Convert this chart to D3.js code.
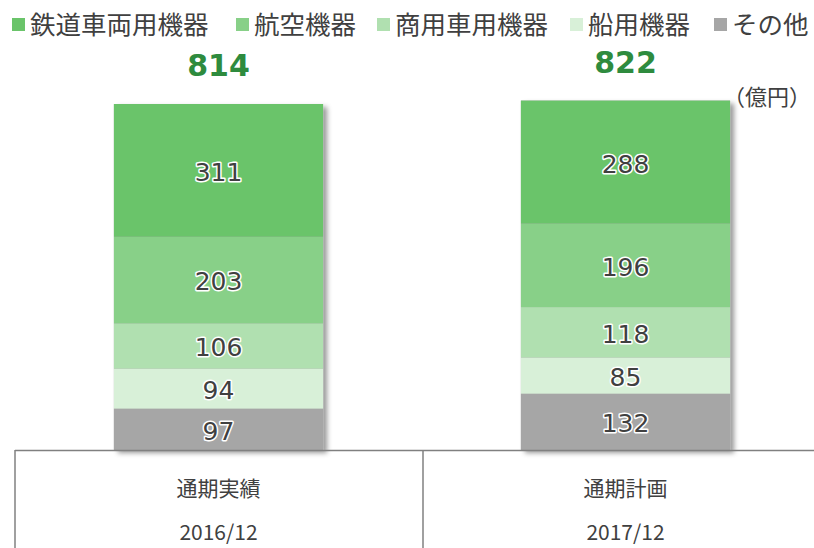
<!DOCTYPE html>
<html>
<head>
<meta charset="utf-8">
<script src="https://cdn.jsdelivr.net/npm/d3@7/dist/d3.min.js"></script>
<style>
  html, body { margin: 0; padding: 0; background: #fff; }
  svg { display: block; }
</style>
</head>
<body>
<svg id="chart" width="814" height="548"></svg>
<script>
// Segment names (stack order bottom → top is reversed below)
const segments = ["鉄道車両用機器", "航空機器", "商用車用機器", "船用機器", "その他"];
const periods = ["通期実績", "通期計画"];
const periodDates = ["2016/12", "2017/12"];
const totals = [814, 822];
// Values per period, in 億円
const railValues = [311, 288];
const aeroValues = [203, 196];
const truckValues = [106, 118];
const marineValues = [94, 85];
const otherValues = [97, 132];

const colors = ["#6ac46a", "#88d088", "#b0e0b0", "#d8f0d8", "#a6a6a6"];
const legendX = [12, 236, 377, 570, 714];

const valueRows = [railValues, aeroValues, truckValues, marineValues, otherValues];
const table = periods.map((p, i) => {
  const row = { period: p };
  segments.forEach((s, k) => row[s] = valueRows[k][i]);
  return row;
});

const svg = d3.select("#chart");
const baseY = 450;

const x = d3.scaleBand().domain(periods).range([15, 829]).paddingInner(0.486).paddingOuter(0.243);
const y = d3.scaleLinear().domain([0, 1000]).range([baseY, baseY - 426.6]);

// Drop shadow for bars
const defs = svg.append("defs");
const f = defs.append("filter").attr("id", "shadow").attr("x", "-10%").attr("y", "-10%").attr("width", "130%").attr("height", "130%");
f.append("feDropShadow").attr("dx", 4).attr("dy", 3).attr("stdDeviation", 2.5).attr("flood-color", "#000").attr("flood-opacity", 0.4);

// Stack bottom-up: その他, 船用, 商用車, 航空, 鉄道
const stackKeys = segments.slice().reverse();
const stacked = d3.stack().keys(stackKeys)(table);

// Shadow layer under the whole bar
svg.append("g").selectAll("rect").data(table).join("rect")
  .attr("x", d => x(d.period))
  .attr("width", x.bandwidth())
  .attr("y", d => y(d3.sum(segments, s => d[s])))
  .attr("height", d => baseY - y(d3.sum(segments, s => d[s])))
  .attr("fill", "#a6a6a6")
  .attr("filter", "url(#shadow)");

const layers = svg.append("g").selectAll("g").data(stacked).join("g")
  .attr("fill", d => colors[segments.indexOf(d.key)]);

layers.selectAll("rect").data(d => d).join("rect")
  .attr("x", d => x(d.data.period))
  .attr("width", x.bandwidth())
  .attr("y", d => y(d[1]))
  .attr("height", d => y(d[0]) - y(d[1]));

// Value labels with a white halo
layers.selectAll("text").data(d => d).join("text")
  .attr("x", d => x(d.data.period) + x.bandwidth() / 2)
  .attr("y", d => (y(d[0]) + y(d[1])) / 2 + 2)
  .attr("text-anchor", "middle")
  .attr("dominant-baseline", "central")
  .attr("font-family", "DejaVu Sans, Verdana, sans-serif")
  .attr("font-size", 25)
  .attr("fill", "#404040")
  .attr("stroke", "#ffffff")
  .attr("stroke-width", 3)
  .attr("stroke-linejoin", "round")
  .attr("paint-order", "stroke")
  .text(d => d[1] - d[0]);

// Totals above bars
svg.append("g").selectAll("text").data(table).join("text")
  .attr("x", (d, i) => x(d.period) + x.bandwidth() / 2)
  .attr("y", (d, i) => y(d3.sum(segments, s => d[s])) - 28)
  .attr("text-anchor", "middle")
  .attr("font-family", "DejaVu Sans, Verdana, sans-serif")
  .attr("font-weight", "bold")
  .attr("font-size", 30)
  .attr("fill", "#2e8b3e")
  .text((d, i) => totals[i]);

// Unit
svg.append("text")
  .attr("x", 811).attr("y", 105)
  .attr("text-anchor", "end")
  .attr("font-family", "Noto Sans CJK JP, sans-serif")
  .attr("font-size", 22)
  .attr("fill", "#404040")
  .text("（億円）");

// Legend
const leg = svg.append("g").selectAll("g").data(segments).join("g")
  .attr("transform", (d, i) => `translate(${legendX[i]},0)`);
leg.append("rect").attr("x", 0).attr("y", 18).attr("width", 13).attr("height", 13)
  .attr("fill", (d, i) => colors[i]);
leg.append("text").attr("x", 18).attr("y", 34)
  .attr("font-family", "Noto Sans CJK JP, sans-serif")
  .attr("font-size", 25.5)
  .attr("fill", "#404040")
  .text(d => d);

// Category table below the bars
const grid = svg.append("g").attr("stroke", "#808080").attr("stroke-width", 1.5);
grid.append("line").attr("x1", 15).attr("x2", 814).attr("y1", baseY + 0.5).attr("y2", baseY + 0.5);
[15, 423, 831].forEach(gx => {
  grid.append("line").attr("x1", gx).attr("x2", gx).attr("y1", baseY).attr("y2", 548);
});

const cats = svg.append("g").selectAll("g").data(periods).join("g");
cats.append("text")
  .attr("x", d => x(d) + x.bandwidth() / 2)
  .attr("y", 496)
  .attr("text-anchor", "middle")
  .attr("font-family", "Noto Sans CJK JP, sans-serif")
  .attr("font-size", 21)
  .attr("fill", "#404040")
  .text(d => d);
cats.append("text")
  .attr("x", d => x(d) + x.bandwidth() / 2)
  .attr("y", 540)
  .attr("text-anchor", "middle")
  .attr("font-family", "Noto Sans CJK JP, sans-serif")
  .attr("font-size", 21)
  .attr("fill", "#404040")
  .text((d, i) => periodDates[i]);
</script>
</body>
</html>
